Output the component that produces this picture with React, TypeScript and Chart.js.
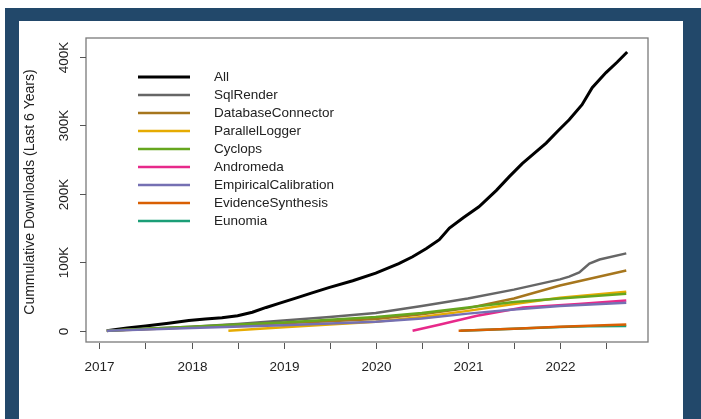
import React, { useEffect, useRef } from "react";
import { Chart, registerables } from "chart.js";

Chart.register(...registerables);

// Cumulative downloads (thousands) by decimal year
const seriesNames = [
  "All",
  "SqlRender",
  "DatabaseConnector",
  "ParallelLogger",
  "Cyclops",
  "Andromeda",
  "EmpiricalCalibration",
  "EvidenceSynthesis",
  "Eunomia",
];
const seriesColors = [
  "#000000",
  "#666666",
  "#A6761D",
  "#E6AB02",
  "#66A61E",
  "#E7298A",
  "#7570B3",
  "#D95F02",
  "#1B9E77",
];

const allYears = [
  2017.08, 2017.3, 2017.5, 2017.75, 2017.97, 2018.15, 2018.33, 2018.5, 2018.66, 2018.81,
  2018.95, 2019.14, 2019.3, 2019.49, 2019.75, 2020.0, 2020.25, 2020.4, 2020.55, 2020.69,
  2020.8, 2020.95, 2021.12, 2021.31, 2021.45, 2021.59, 2021.72, 2021.85, 2021.98, 2022.1,
  2022.24, 2022.35, 2022.5, 2022.62, 2022.73,
];
const allValues = [
  0, 4, 7, 11, 15, 17, 19, 22, 27, 34,
  40, 48, 55, 63, 73, 84, 98, 108, 120, 133,
  150, 165, 181, 205, 225, 244, 259, 274, 292, 308,
  330, 355, 377, 392, 407,
];

const sqlRenderYears = [2017.08, 2017.5, 2018, 2018.5, 2019, 2019.5, 2020, 2020.5, 2021, 2021.5, 2022, 2022.1, 2022.21, 2022.32, 2022.43, 2022.72];
const sqlRenderValues = [0, 3, 6, 10, 15, 20, 26, 36, 47, 60, 75, 79, 85, 98, 104, 113];

const dbConnectorYears = [2017.08, 2017.5, 2018, 2018.5, 2019, 2019.5, 2020, 2020.5, 2021, 2021.5, 2022, 2022.72];
const dbConnectorValues = [0, 2, 5, 8, 11, 14, 17, 24, 33, 47, 66, 88];

const parallelLoggerYears = [2018.4, 2019, 2019.5, 2020, 2020.5, 2021, 2021.5, 2022, 2022.72];
const parallelLoggerValues = [0, 5, 9, 13, 20, 29, 39, 48, 57];

const cyclopsYears = [2017.08, 2017.5, 2018, 2018.5, 2019, 2019.5, 2020, 2020.5, 2021, 2021.5, 2022, 2022.72];
const cyclopsValues = [0, 3, 6, 9, 12, 16, 20, 26, 34, 42, 47, 54];

const andromedaYears = [2020.4, 2020.7, 2021.1, 2021.6, 2022.2, 2022.72];
const andromedaValues = [0, 9, 22, 34, 39, 44];

const empiricalYears = [2017.08, 2018, 2019, 2020, 2020.5, 2021, 2021.5, 2022, 2022.72];
const empiricalValues = [0, 4, 8, 13, 18, 25, 31, 36, 41];

const evidenceYears = [2020.9, 2021.5, 2022, 2022.72];
const evidenceValues = [0, 3, 6, 9];

const eunomiaYears = [2020.92, 2021.5, 2022, 2022.3, 2022.72];
const eunomiaValues = [0, 2.8, 5.6, 6.4, 6.8];

const seriesYears = [allYears, sqlRenderYears, dbConnectorYears, parallelLoggerYears, cyclopsYears, andromedaYears, empiricalYears, evidenceYears, eunomiaYears];
const seriesValues = [allValues, sqlRenderValues, dbConnectorValues, parallelLoggerValues, cyclopsValues, andromedaValues, empiricalValues, evidenceValues, eunomiaValues];
// stacking order of the lines (higher = drawn underneath)
const seriesLayer = [0, -1, -2, -3, -4, -5, -6, -8, -7];

const xTickValues = [2017, 2017.5, 2018, 2018.5, 2019, 2019.5, 2020, 2020.5, 2021, 2021.5, 2022, 2022.5];
const xTickLabels = ["2017", "", "2018", "", "2019", "", "2020", "", "2021", "", "2022", ""];
const yTickValues = [0, 100, 200, 300, 400];
const yTickLabels = ["0", "100K", "200K", "300K", "400K"];
const yTitle = "Cummulative Downloads (Last 6 Years)";

const FONT = "'Liberation Sans', Arial, Helvetica, sans-serif";

const baseAxesPlugin = {
  id: "baseAxes",
  afterDatasetsDraw(chart: any) {
    const { ctx, chartArea, scales } = chart;
    const xs = scales.x;
    const ys = scales.y;
    ctx.save();

    // plot box
    ctx.strokeStyle = "#7a7a7a";
    ctx.lineWidth = 1.3;
    ctx.strokeRect(chartArea.left, chartArea.top, chartArea.right - chartArea.left, chartArea.bottom - chartArea.top);

    ctx.strokeStyle = "#555";
    ctx.lineWidth = 1;
    ctx.fillStyle = "#222";
    ctx.font = `13.5px ${FONT}`;

    // x ticks and labels
    ctx.textAlign = "center";
    ctx.textBaseline = "middle";
    xTickValues.forEach((v, i) => {
      const px = Math.round(xs.getPixelForValue(v)) + 0.5;
      ctx.beginPath();
      ctx.moveTo(px, chartArea.bottom + 1);
      ctx.lineTo(px, chartArea.bottom + 7);
      ctx.stroke();
      if (xTickLabels[i]) ctx.fillText(xTickLabels[i], px, chartArea.bottom + 25);
    });

    // y ticks and rotated labels
    yTickValues.forEach((v, i) => {
      const py = Math.round(ys.getPixelForValue(v)) + 0.5;
      ctx.beginPath();
      ctx.moveTo(chartArea.left - 6, py);
      ctx.lineTo(chartArea.left, py);
      ctx.stroke();
      ctx.save();
      ctx.translate(chartArea.left - 22, py);
      ctx.rotate(-Math.PI / 2);
      ctx.fillText(yTickLabels[i], 0, 0);
      ctx.restore();
    });

    // y axis title
    ctx.save();
    ctx.font = `14px ${FONT}`;
    ctx.translate(30, (chartArea.top + chartArea.bottom) / 2 + 2);
    ctx.rotate(-Math.PI / 2);
    ctx.fillText(yTitle, 0, 0);
    ctx.restore();

    // legend inside the plot
    ctx.textAlign = "left";
    ctx.font = `13.5px ${FONT}`;
    seriesNames.forEach((name, i) => {
      const y = 77 + i * 18;
      ctx.strokeStyle = seriesColors[i];
      ctx.lineWidth = i === 0 ? 3 : 2.5;
      ctx.beginPath();
      ctx.moveTo(138, y);
      ctx.lineTo(190, y);
      ctx.stroke();
      ctx.fillStyle = "#222";
      ctx.fillText(name, 214, y);
    });

    ctx.restore();
  },
};

export default function App() {
  const canvasRef = useRef<HTMLCanvasElement | null>(null);

  useEffect(() => {
    if (!canvasRef.current) return;
    const xDataMin = 2017.08;
    const xDataMax = 2022.73;
    const xPad = (xDataMax - xDataMin) * 0.04;
    const yDataMax = 411;
    const yPad = yDataMax * 0.04;

    const chart = new Chart(canvasRef.current, {
      type: "line",
      data: {
        datasets: seriesNames.map((name, i) => ({
          label: name,
          data: seriesYears[i].map((yr, j) => ({ x: yr, y: seriesValues[i][j] })),
          borderColor: seriesColors[i],
          backgroundColor: seriesColors[i],
          borderWidth: i === 0 ? 3 : 2.5,
          pointRadius: 0,
          tension: 0,
          fill: false,
          order: seriesLayer[i],
        })),
      },
      options: {
        responsive: false,
        animation: false,
        devicePixelRatio: 1,
        layout: { padding: { left: 86, top: 38, right: 53, bottom: 77 } },
        plugins: { legend: { display: false }, tooltip: { enabled: false } },
        scales: {
          x: { type: "linear", display: false, min: xDataMin - xPad, max: xDataMax + xPad },
          y: { type: "linear", display: false, min: -yPad, max: yDataMax + yPad },
        },
      },
      plugins: [baseAxesPlugin],
    });
    return () => chart.destroy();
  }, []);

  return (
    <div style={{ position: "fixed", left: 0, top: 0, width: 701, height: 419, background: "#ffffff" }}>
      <div style={{ position: "absolute", left: 5, top: 8, width: 696, height: 411, background: "#22486a" }} />
      <div style={{ position: "absolute", left: 19, top: 21, width: 664, height: 398, background: "#ffffff" }} />
      <canvas
        ref={canvasRef}
        width={701}
        height={419}
        style={{ position: "absolute", left: 0, top: 0, width: 701, height: 419 }}
      />
    </div>
  );
}
